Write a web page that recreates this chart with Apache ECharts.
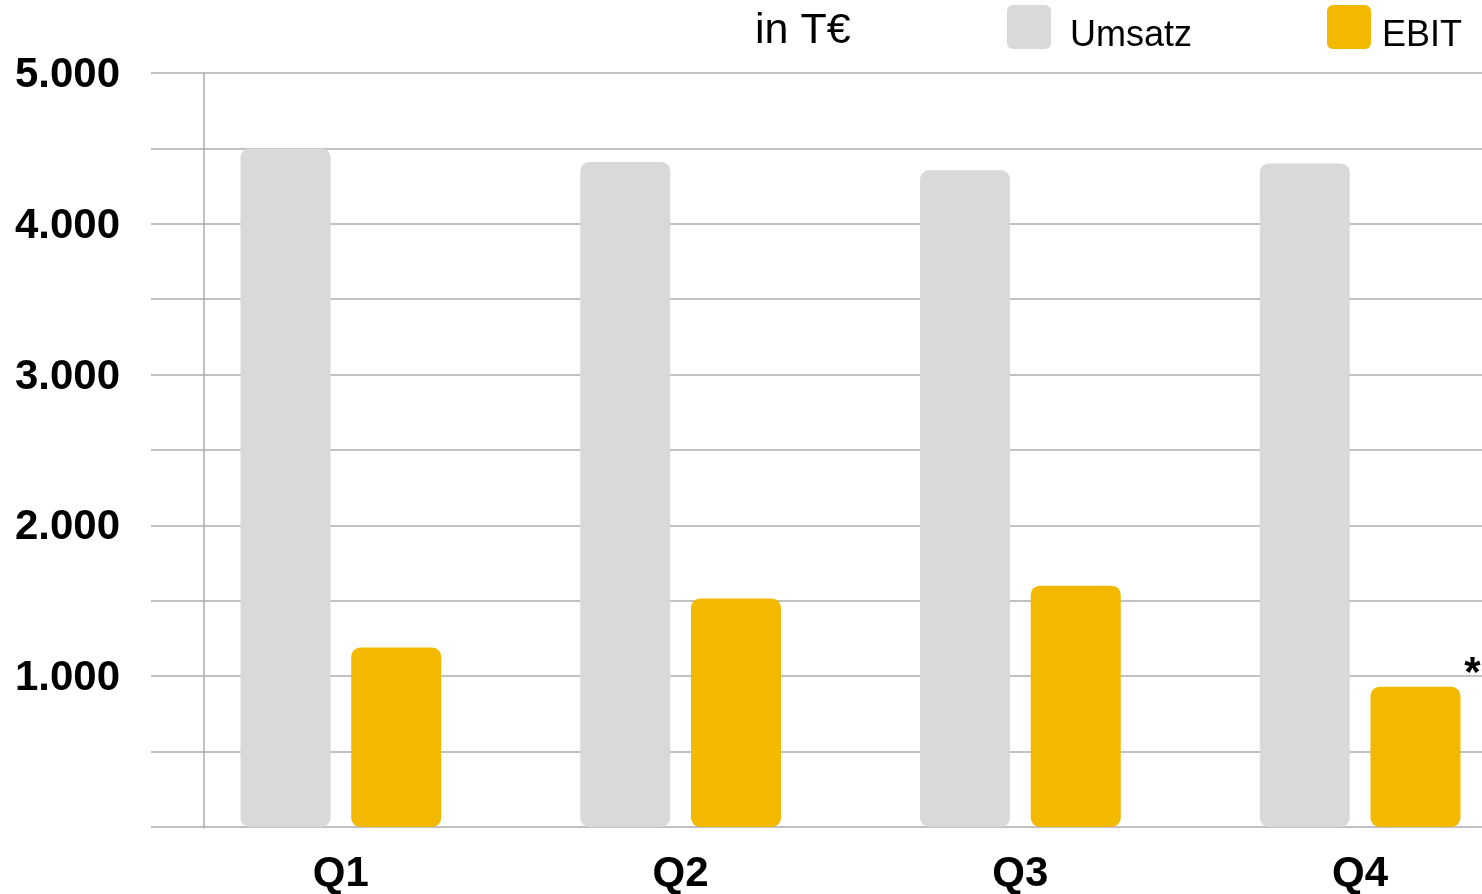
<!DOCTYPE html>
<html>
<head>
<meta charset="utf-8">
<title>Umsatz / EBIT</title>
<script src="https://cdn.jsdelivr.net/npm/echarts@6/dist/echarts.min.js"></script>
<style>
  html, body { margin: 0; padding: 0; background: #fff; }
  #chart { width: 1482px; height: 894px; }
</style>
</head>
<body>
<div id="chart"></div>
<script>
// 数据
var quarters = ["Q1", "Q2", "Q3", "Q4"];
var umsatz = [4500, 4410, 4355, 4400];
var ebit = [1190, 1515, 1600, 930];
var yMax = 5000;
var yStep = 500;

var font = "'Liberation Sans', Arial, sans-serif";
var gridColor = "#adadad";
var roundIcon = "path://M6,0H38A6,6 0 0 1 44,6V38A6,6 0 0 1 38,44H6A6,6 0 0 1 0,38V6A6,6 0 0 1 6,0Z";

// 千位分隔符用点
function fmt(v) {
  return String(v).replace(/\B(?=(\d{3})+(?!\d))/g, ".");
}

// Q4 EBIT 带星号标注
var ebitData = ebit.map(function(v, i) {
  if (i === 3) {
    return {
      value: v,
      label: {
        show: true,
        formatter: "*",
        position: [102, -12],
        align: "center",
        verticalAlign: "middle",
        fontFamily: font,
        fontWeight: "bold",
        fontSize: 42,
        color: "#000"
      }
    };
  }
  return v;
});

// 图例文字略低于图标
function legendText(gap) {
  return {
    fontFamily: font, fontSize: 36, color: "#000",
    rich: {
      t: { fontFamily: font, fontSize: 36, color: "#000", padding: [18, 0, 0, gap] }
    }
  };
}

var chart = echarts.init(document.getElementById("chart"));

var option = {
  animation: false,
  title: {
    text: "in T€",
    left: 755,
    top: 10,
    padding: 0,
    textStyle: { fontFamily: font, fontWeight: "normal", fontSize: 43, color: "#000" }
  },
  legend: [
    {
      data: [{ name: "Umsatz", icon: roundIcon }],
      left: 1007, top: 5, padding: 0,
      itemWidth: 44, itemHeight: 44,
      formatter: "{t|{name}}",
      textStyle: legendText(14)
    },
    {
      data: [{ name: "EBIT", icon: roundIcon }],
      left: 1327, top: 5, padding: 0,
      itemWidth: 44, itemHeight: 44,
      formatter: "{t|{name}}",
      textStyle: legendText(6)
    }
  ],
  grid: [
    // 网格线和y轴标签
    { left: 151, right: 0, top: 73, bottom: 67 },
    // 柱子，右侧超出画布
    { left: 171, right: -48, top: 73, bottom: 67, outerBoundsMode: "none" },
    // 竖轴线
    { left: 204, width: 10, top: 73, bottom: 66 }
  ],
  xAxis: [
    { gridIndex: 0, type: "value", show: false },
    {
      gridIndex: 1,
      type: "category",
      data: quarters,
      axisLine: { show: false },
      axisTick: { show: false },
      axisLabel: { margin: 26, fontFamily: font, fontWeight: "bold", fontSize: 42, color: "#000" }
    },
    { gridIndex: 2, type: "value", show: false }
  ],
  yAxis: [
    {
      gridIndex: 0,
      type: "value",
      min: 0, max: yMax, interval: yStep,
      axisLine: { show: false },
      axisTick: { show: false },
      splitLine: { lineStyle: { color: gridColor, width: 1.5 } },
      axisLabel: {
        margin: 31,
        fontFamily: font, fontWeight: "bold", fontSize: 42, color: "#000",
        formatter: function(v) {
          return v > 0 && v % 1000 === 0 ? "{n|" + fmt(v) + "}" : "";
        },
        rich: {
          n: { fontFamily: font, fontWeight: "bold", fontSize: 42, color: "#000", padding: [5, 0, 0, 0] }
        }
      }
    },
    { gridIndex: 1, type: "value", min: 0, max: yMax, show: false },
    {
      gridIndex: 2,
      type: "value",
      min: 0, max: yMax,
      axisLine: { show: true, lineStyle: { color: gridColor, width: 1.5 } },
      axisTick: { show: false },
      axisLabel: { show: false },
      splitLine: { show: false }
    }
  ],
  series: [
    {
      name: "Umsatz",
      type: "bar",
      xAxisIndex: 1, yAxisIndex: 1,
      data: umsatz,
      barWidth: 90,
      barGap: "23%",
      itemStyle: { color: "#d9d9d9", borderRadius: 9 }
    },
    {
      name: "EBIT",
      type: "bar",
      xAxisIndex: 1, yAxisIndex: 1,
      data: ebitData,
      barWidth: 90,
      barGap: "23%",
      itemStyle: { color: "#f2b900", borderRadius: 9 }
    }
  ]
};

chart.setOption(option);
</script>
</body>
</html>
